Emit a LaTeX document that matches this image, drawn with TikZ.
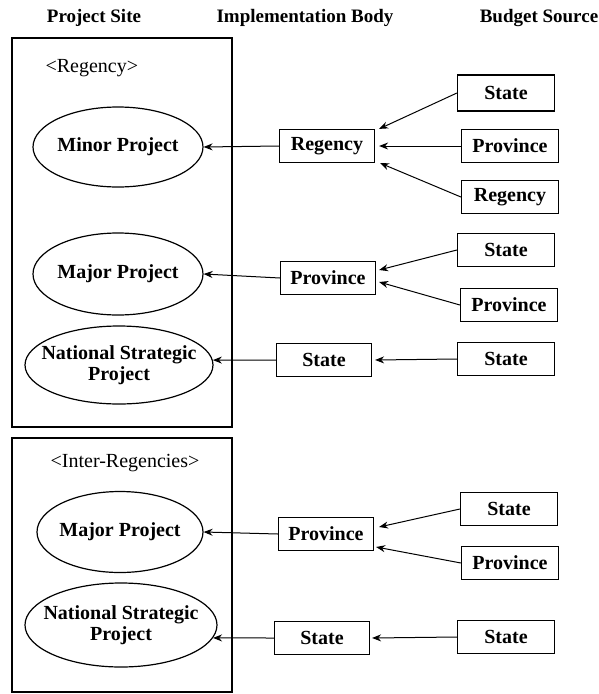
\documentclass[tikz,border=0pt]{standalone}
\usepackage{fontspec}
\setmainfont{Liberation Serif}
\usetikzlibrary{shapes,arrows,arrows.meta,calc}
\usetikzlibrary{positioning}
\tikzstyle{site_frame}=[draw, line width=2.2pt, minimum width=220pt, anchor=center]
\tikzstyle{box_style}=[draw, line width=1.2pt, minimum height=33pt, inner sep=0pt,
anchor=center, text centered, font=\bfseries\fontsize{20}{22}\selectfont]
\tikzstyle{body_box}=[box_style, minimum width=95pt]
\tikzstyle{source_box}=[box_style, minimum width=97pt]
\tikzstyle{project}=[draw, ellipse, line width=1.2pt, inner xsep=-16pt, inner ysep=0pt, minimum width=170pt,
minimum height=80pt, align=center, font=\bfseries\fontsize{20}{21}\selectfont]
\tikzstyle{header}=[font=\bfseries\fontsize{19}{21}\selectfont]
\tikzstyle{region_label}=[font=\fontsize{20}{22}\selectfont]
\tikzstyle{myarrow}=[->, >={Stealth[length=9pt,width=7pt]}, line width=1pt]

\begin{document}
\begin{tikzpicture}[x=1pt, y=-1pt]
		\useasboundingbox (0,0) rectangle (598,694);

		% column titles
		\node[header] (hSite) at (94,18) {Project Site};
		\node[header] (hBody) at (305,18) {Implementation Body};
		\node[header] (hSource) at (539,18) {Budget Source};

		% project site frames
		\node[site_frame, minimum height=389pt] (fRegency) at (122,232.5) {};
		\node[site_frame, minimum height=254pt] (fInter) at (122,565) {};
		\node[region_label, anchor=west] (lRegency) at (42,68) {<Regency>};
		\node[region_label] (lInter) at (125,463) {<Inter-Regencies>};

		\node[project] (minor) at (118,147) {Minor Project};
		\node[project, minimum height=82pt] (majorA) at (118,274) {Major Project};
		\node[project, minimum width=188pt, minimum height=78pt] (natA) at (119,365) {National Strategic\\Project};
		\node[project, minimum width=166pt, minimum height=81pt] (majorB) at (120,532) {Major Project};
		\node[project, minimum width=192pt, minimum height=84pt] (natB) at (121,625) {National Strategic\\Project};

		% implementation bodies
		\node[body_box] (bRegency) at (327,146) {Regency};
		\node[body_box] (bProvA) at (328,278) {Province};
		\node[body_box] (bStateA) at (324,360) {State};
		\node[body_box] (bProvB) at (326,534) {Province};
		\node[body_box] (bStateB) at (322,638) {State};

		% budget sources
		\node[source_box, minimum height=36pt] (sStateA) at (506,93) {State};
		\node[source_box] (sProvA) at (510,146) {Province};
		\node[source_box] (sRegency) at (510,197) {Regency};
		\node[source_box] (sStateB) at (506,250) {State};
		\node[source_box] (sProvB) at (509,305) {Province};
		\node[source_box] (sStateC) at (506,359) {State};
		\node[source_box] (sStateD) at (509,509) {State};
		\node[source_box] (sProvC) at (510,563) {Province};
		\node[source_box] (sStateE) at (506,637) {State};

		\draw[myarrow] (sStateA.west) -- ([xshift=4pt]bRegency.north east);
		\draw[myarrow] (sProvA.west) -- ([xshift=4pt]bRegency.east);
		\draw[myarrow] (sRegency.west) -- ([xshift=5pt]bRegency.south east);
		\draw[myarrow] (bRegency.west) -- (minor.east);

		\draw[myarrow] (sStateB.west) -- ([xshift=3pt,yshift=8pt]bProvA.east);
		\draw[myarrow] (sProvB.west) -- ([xshift=3pt,yshift=-4pt]bProvA.east);
		\draw[myarrow] (bProvA.west) -- (majorA.east);
		\draw[myarrow] (sStateC.west) -- ([xshift=3pt]bStateA.east);
		\draw[myarrow] (bStateA.west) -- (natA.3);

		\draw[myarrow] (sStateD.west) -- ([xshift=5pt,yshift=7pt]bProvB.east);
		\draw[myarrow] (sProvC.west) -- ([xshift=2pt,yshift=-13pt]bProvB.east);
		\draw[myarrow] (bProvB.west) -- (majorB.east);
		\draw[myarrow] (sStateE.west) -- ([xshift=2pt]bStateB.east);
		\draw[myarrow] (bStateB.west) -- (natB.-8);
	\end{tikzpicture}
\end{document}
